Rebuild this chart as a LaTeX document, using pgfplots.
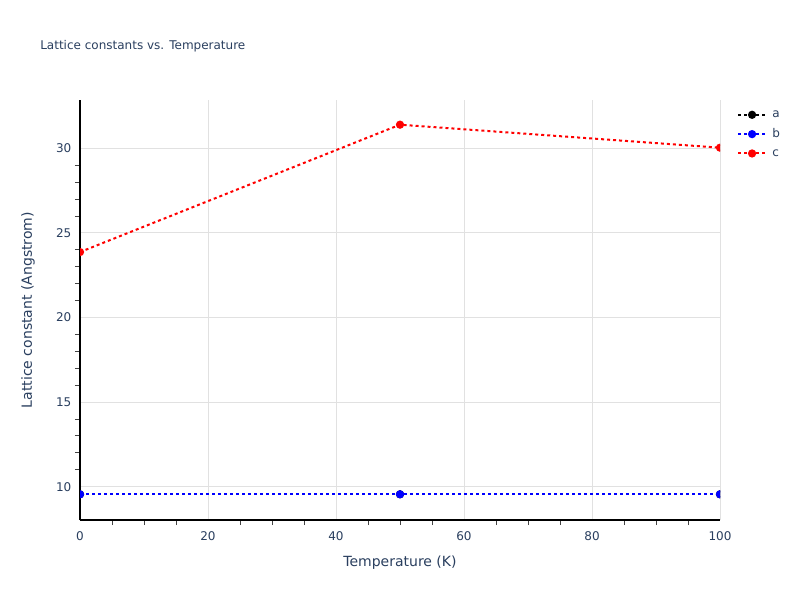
\documentclass[border=0pt]{standalone}
\usepackage{pgfplots}
\pgfplotsset{compat=1.18}
\usepackage{fontspec}
\setmainfont{DejaVu Sans}
\definecolor{fontc}{HTML}{2A3F5F}
\definecolor{gridc}{HTML}{E1E1E1}
\definecolor{tickc}{HTML}{444444}

\begin{document}
\begin{tikzpicture}
% canvas: 800 x 600 px, 1px = 0.75pt
\fill[white] (0,0) rectangle (600pt,450pt);
\node[anchor=west, font=\fontsize{9}{11}\selectfont, text=fontc, inner sep=0pt] at (30pt,415.5pt) {Lattice constants vs. Temperature};
\begin{axis}[
    at={(60pt,60pt)}, anchor=south west,
    width=480pt, height=315pt, scale only axis,
    xmin=0, xmax=100,
    ymin=8.03, ymax=32.86,
    xtick={0,20,40,60,80,100},
    ytick={10,15,20,25,30},
    minor x tick num=3,
    minor y tick num=4,
    tick align=outside,
    major tick length=0pt,
    minor tick length=3.75pt,
    minor tick style={tickc, line width=0.75pt},
    xmajorgrids, ymajorgrids,
    major grid style={gridc, line width=0.75pt},
    axis x line*=bottom, axis y line*=left,
    axis line style={-, black, line width=0.75pt},
    every inner x axis line/.append style={-},
    every inner y axis line/.append style={-},
    every outer x axis line/.append style={-},
    every outer y axis line/.append style={-},
    /pgf/number format/assume math mode=true,
    ticklabel style={font=\fontsize{9}{11}\selectfont, text=fontc},
    xticklabel style={yshift=-5pt},
    yticklabel style={xshift=-3pt},
    xlabel={Temperature (K)},
    ylabel={Lattice constant (Angstrom)},
    label style={font=\fontsize{10.5}{12}\selectfont, text=fontc},
    xlabel style={at={(axis description cs:0.5,0)}, anchor=center, yshift=-32.25pt},
    ylabel style={at={(axis description cs:0,0.5)}, anchor=center, yshift=39pt},
    clip marker paths=true,
    legend style={at={(1.02,0.988)}, anchor=north west, draw=none, fill=none,
        font=\fontsize{9}{11}\selectfont, text=fontc,
        nodes={inner ysep=1pt, inner xsep=4pt, text height=6.5pt, text depth=1.75pt},
        row sep=4.25pt},
    legend cell align=left,
    legend image code/.code={\draw[mark repeat=2, mark phase=2, #1]
        plot coordinates {(0pt,0pt) (10.5pt,0pt) (21pt,0pt)};},
    every axis plot/.append style={line width=1.5pt, dash pattern=on 2.25pt off 2.25pt,
        mark=*, mark size=2.3pt, mark options={solid}},
]
\addplot[black] coordinates {(0,9.55) (50,9.55) (100,9.55)};
\addlegendentry{a}
\addplot[blue] coordinates {(0,9.55) (50,9.55) (100,9.55)};
\addlegendentry{b}
\addplot[red] coordinates {(0,23.87) (50,31.40) (100,30.04)};
\addlegendentry{c}
\end{axis}
\end{tikzpicture}
\end{document}
